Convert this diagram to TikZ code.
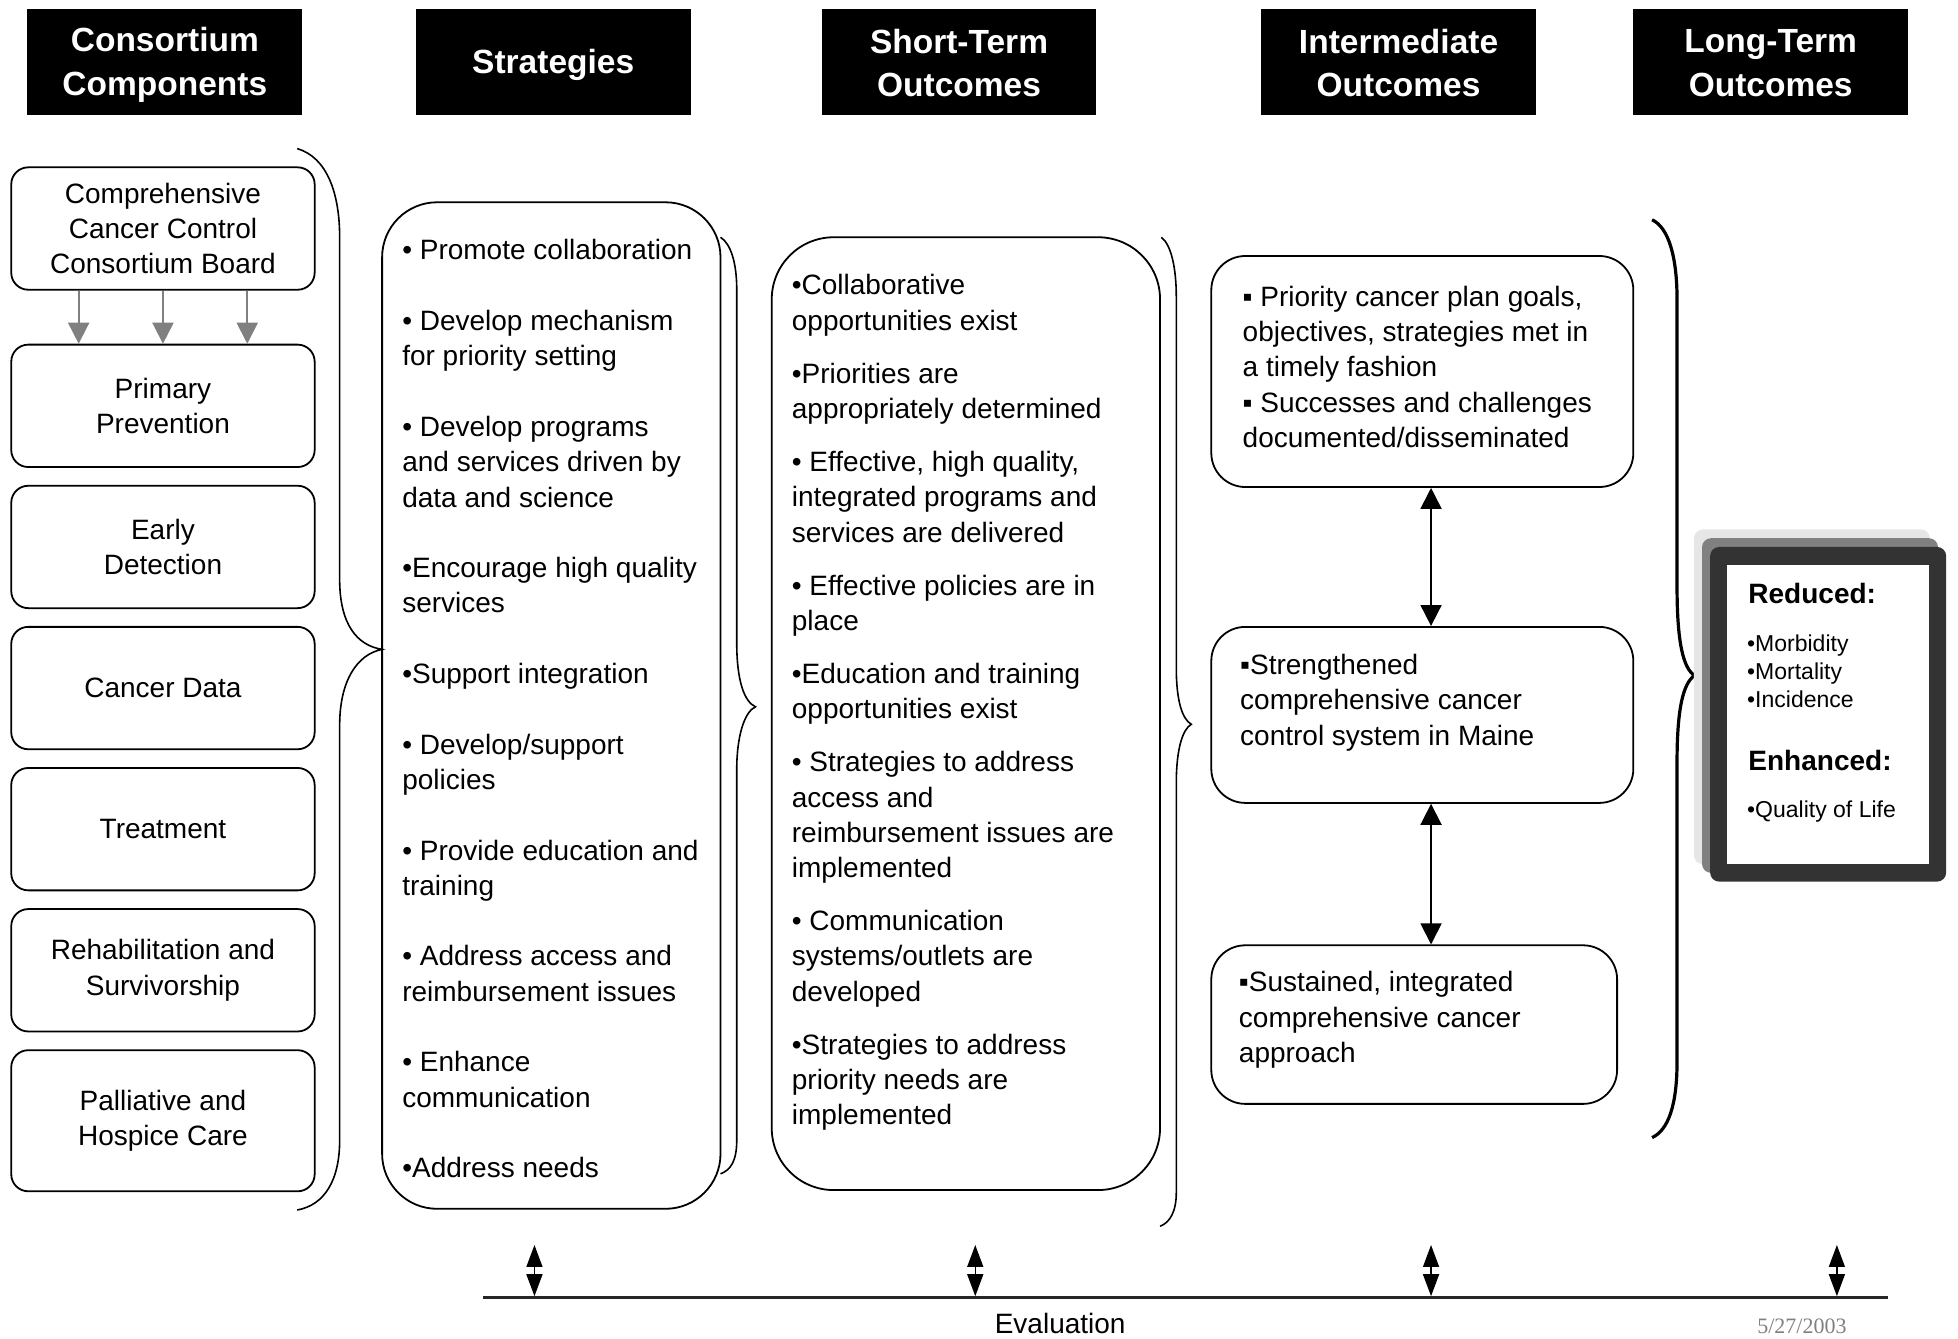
\documentclass[tikz,border=0pt]{standalone}
\usepackage{fontspec}
\setmainfont{Liberation Sans}
\newfontfamily\datefont{Liberation Serif}
\usetikzlibrary{arrows.meta,calc}
\definecolor{ltgray}{HTML}{E6E6E6}
\definecolor{mdgray}{HTML}{808080}
\definecolor{dkgray}{HTML}{333333}
\definecolor{argray}{HTML}{808080}
\newcommand\mystrut{\rule{0pt}{26pt}}
\begin{document}
\begin{tikzpicture}[x=1.2487pt,y=-1.2487pt,
  hdr/.style={fill=black,inner sep=0pt,
    minimum width=274.7pt,minimum height=106.1pt},
  hdrtext/.style={text=white,inner sep=0pt,align=center,
    font=\fontsize{33.5pt}{43.7pt}\selectfont\bfseries},
  comp/.style={draw,line width=1.8pt,rounded corners=17pt,inner sep=0pt,align=center,
    minimum width=303.4pt,minimum height=122.4pt,
    font=\fontsize{28pt}{35.3pt}\selectfont},
  panel/.style={draw,line width=1.8pt,inner sep=0pt},
  bodytext/.style={anchor=north west,yshift=26pt,inner sep=0pt,align=left,
    font=\fontsize{28pt}{35.3pt}\selectfont},
  brace/.style={line width=1.6pt},
  garrow/.style={argray,line width=1.8pt,-{Triangle[length=21pt,width=21pt]}},
  darrow/.style={line width=1.8pt,{Triangle[length=21pt,width=21pt]}-{Triangle[length=21pt,width=21pt]}},
  earrow/.style={line width=1.5pt,{Triangle[length=22pt,width=16pt]}-{Triangle[length=22pt,width=16pt]}},
  ltbold/.style={anchor=base west,inner sep=0pt,font=\fontsize{28pt}{33pt}\selectfont\bfseries},
  ltitem/.style={inner sep=0pt,align=left,font=\fontsize{23pt}{28.1pt}\selectfont}
]
\useasboundingbox (0,0) rectangle (1568,1071.5);

% headers
\node[hdr] (h1) at (132,49.5) {};
\node[hdr] (h2) at (443,49.5) {};
\node[hdr] (h3) at (768,49.5) {};
\node[hdr] (h4) at (1120,49.5) {};
\node[hdr] (h5) at (1418,49.5) {};
\node[hdrtext] (h1t) at (132,52) {Consortium\\Components};
\node[hdrtext] (h2t) at (443,52) {Strategies};
\node[hdrtext] (h3t) at (768,50.5) {Short-Term\\Outcomes};
\node[hdrtext] (h4t) at (1120,50.5) {Intermediate\\Outcomes};
\node[hdrtext] (h5t) at (1418,50.5) {Long-Term\\Outcomes};

% consortium components
\node[comp] (board) at (130.5,183) {Comprehensive\\Cancer Control\\Consortium Board};
\node[comp] (pp) at (130.5,325) {Primary\\Prevention};
\node[comp] (ed) at (130.5,438) {Early\\Detection};
\node[comp] (cd) at (130.5,551) {Cancer Data};
\node[comp] (tr) at (130.5,664) {Treatment};
\node[comp] (rs) at (130.5,777) {Rehabilitation and\\Survivorship};
\node[comp,minimum height=141.1pt] (ph) at (130.5,897.5) {Palliative and\\Hospice Care};
\foreach \dx in {-67.5,0,67.5}
  \draw[garrow] ($(board.south)+(\dx,0)$) -- ($(pp.north)+(\dx,0)$);

% brace A
\draw[brace] (238,119) .. controls (262,126) and (272,155) .. (272,190) -- (272,464)
  .. controls (272,500) and (286,517) .. (306,520)
  .. controls (286,524) and (272,545) .. (272,581) -- (272,913)
  .. controls (272,945) and (260,965) .. (238,969);

% strategies
\node[panel,rounded corners=55pt,minimum width=338.4pt,minimum height=1006.5pt] (strat) at (441.5,565) {};
\node[bodytext] (strattxt) at (322,208) {\mystrut• Promote collaboration\\[35.3pt]
• Develop mechanism\\for priority setting\\[35.3pt]
• Develop programs\\and services driven by\\data and science\\[35.3pt]
•Encourage high quality\\services\\[35.3pt]
•Support integration\\[35.3pt]
• Develop/support\\policies\\[35.3pt]
• Provide education and\\training\\[35.3pt]
• Address access and\\reimbursement issues\\[35.3pt]
• Enhance\\communication\\[35.3pt]
•Address needs};

% brace B
\draw[brace] (577,190) .. controls (585,195) and (590,210) .. (590,232) -- (590,515)
  .. controls (590,545) and (596,562) .. (605,566)
  .. controls (596,570) and (590,590) .. (590,616) -- (590,913)
  .. controls (590,930) and (585,937) .. (577,940);

% short-term
\node[panel,rounded corners=62pt,minimum width=388.3pt,minimum height=952.8pt] (short) at (773.5,571.5) {};
\node[bodytext] (shorttxt) at (634,236) {\mystrut•Collaborative\\opportunities exist\\[17.7pt]
•Priorities are\\appropriately determined\\[17.7pt]
• Effective, high quality,\\integrated programs and\\services are delivered\\[17.7pt]
• Effective policies are in\\place\\[17.7pt]
•Education and training\\opportunities exist\\[17.7pt]
• Strategies to address\\access and\\reimbursement issues are\\implemented\\[17.7pt]
• Communication\\systems/outlets are\\developed\\[17.7pt]
•Strategies to address\\priority needs are\\implemented};

% brace C
\draw[brace] (930,190) .. controls (938,196) and (942,215) .. (942,238) -- (942,535)
  .. controls (942,562) and (947,576) .. (954,580)
  .. controls (947,584) and (942,600) .. (942,627) -- (942,955)
  .. controls (942,970) and (937,979) .. (929,982);

% intermediate
\node[panel,rounded corners=34pt,minimum width=422pt,minimum height=231pt] (ib1) at (1139,297.5) {};
\node[panel,rounded corners=34pt,minimum width=422pt,minimum height=176pt] (ib2) at (1139,572.5) {};
\node[panel,rounded corners=34pt,minimum width=405.8pt,minimum height=158.6pt] (ib3) at (1132.5,820.5) {};
\node[bodytext] (ib1txt) at (995,245) {\mystrut▪ Priority cancer plan goals,\\objectives, strategies met in\\a timely fashion\\▪ Successes and challenges\\documented/disseminated};
\node[bodytext] (ib2txt) at (993,540) {\mystrut▪Strengthened\\comprehensive cancer\\control system in Maine};
\node[bodytext] (ib3txt) at (992,794) {\mystrut▪Sustained, integrated\\comprehensive cancer\\approach};
\draw[darrow] ($(ib1.south)+(7,0)$) -- ($(ib2.north)+(7,0)$);
\draw[darrow] ($(ib2.south)+(7,0)$) -- ($(ib3.north)+(13.5,0)$);

% brace D
\draw[line width=3.2pt] (1323,176) .. controls (1336,182) and (1343,205) .. (1343,240) -- (1343,470)
  .. controls (1343,515) and (1348,535) .. (1357,541)
  .. controls (1348,547) and (1343,567) .. (1343,610) -- (1343,850)
  .. controls (1343,885) and (1336,905) .. (1323,911);

% long-term
\node[fill=ltgray,rounded corners=9pt,inner sep=0pt,minimum width=236pt,minimum height=334.6pt] (ltA) at (1451,558) {};
\node[fill=mdgray,rounded corners=9pt,inner sep=0pt,minimum width=236pt,minimum height=334.6pt] (ltB) at (1457.5,565) {};
\node[fill=dkgray,rounded corners=9pt,inner sep=0pt,minimum width=236pt,minimum height=334.6pt] (lt) at (1464,572) {};
\node[fill=white,inner sep=0pt,minimum width=202.3pt,minimum height=299pt] (ltw) at (1464,572.3) {};
\node[ltbold] (red) at (1400,483.5) {Reduced:};
\node[ltitem,anchor=north west,yshift=21pt] (redl) at (1399,521.5) {\rule{0pt}{21pt}•Morbidity\\•Mortality\\•Incidence};
\node[ltbold] (enh) at (1400,617) {Enhanced:};
\node[ltitem,anchor=base west] (enhl) at (1399,654.5) {•Quality of Life};

% evaluation
\coordinate (evL) at (387,1039);
\coordinate (evR) at (1512,1039);
\draw[line width=3.2pt,black!85] (evL) -- (evR);
\foreach \i/\x in {1/428,2/781,3/1146,4/1471}{
  \coordinate (et\i) at (\x,997);
  \coordinate (eb\i) at (\x,1038);
  \draw[earrow] (et\i) -- (eb\i);
}
\node[anchor=base,inner sep=0pt,font=\fontsize{28pt}{34pt}\selectfont] (evtxt) at (849,1068) {Evaluation};
\node[anchor=base,inner sep=0pt,text=mdgray,font=\datefont\fontsize{22pt}{26pt}\selectfont] (date) at (1443,1068) {5/27/2003};
\end{tikzpicture}
\end{document}
